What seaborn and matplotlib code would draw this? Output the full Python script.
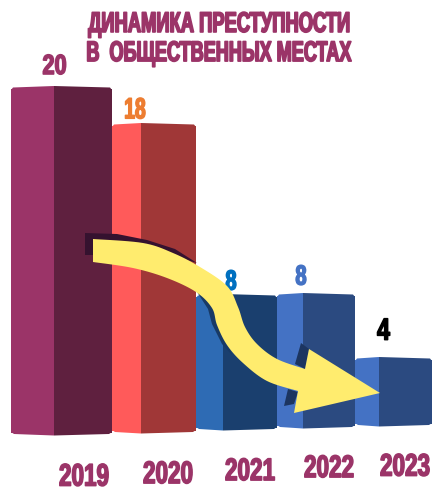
import matplotlib
matplotlib.use("Agg")
import matplotlib.pyplot as plt
import matplotlib.patheffects as pe
from matplotlib.patches import Polygon
from matplotlib.transforms import Affine2D
import numpy as np
import pandas as pd
import seaborn as sns

years = ["2019", "2020", "2021", "2022", "2023"]
values = [20, 18, 8, 8, 4]
title_lines = ["ДИНАМИКА ПРЕСТУПНОСТИ", "В  ОБЩЕСТВЕННЫХ МЕСТАХ"]
value_colors = ["#9B3468", "#ED7D31", "#0070C0", "#4472C4", "#000000"]
front_colors = ["#9B3468", "#FF5A5A", "#2E6BB4", "#4472C4", "#4472C4"]
side_colors = ["#5F203F", "#A03737", "#1A3F6E", "#2B4A80", "#2B4A80"]

# layout (pixels)
W, H = 435, 489
edges = [(11, 54, 112), (112, 141, 196), (196, 223, 277), (277, 303, 355), (355, 379, 432)]
feet = [435, 433, 430, 428, 426]
tops = [88, 125, 296, 295, 359]
PX_PER_UNIT = 17.3
ZERO = 435

sns.set_theme(style="white")
FONT = ["Liberation Sans", "DejaVu Sans"]
fig = plt.figure(figsize=(W / 100, H / 100), dpi=100, facecolor="white")
ax = fig.add_axes([0, 0, 1, 1])

df = pd.DataFrame({"year": years * 2, "value": values * 2,
                   "face": ["front"] * 5 + ["side"] * 5})
sns.barplot(data=df, x="year", y="value", hue="face", order=years,
            hue_order=["front", "side"], dodge=True, legend=False, ax=ax,
            linewidth=0, saturation=1, palette=["#888888", "#444444"])
ax.set_xlim(-0.5, 4.5)
ax.set_ylim((ZERO - H) / PX_PER_UNIT, ZERO / PX_PER_UNIT)
ax.axis("off")

ov = fig.add_axes([0, 0, 1, 1], facecolor="none")
ov.set_xlim(0, W)
ov.set_ylim(H, 0)
ov.axis("off")

xtrans = ax.transData.inverted()
def to_data(x, y):
    return xtrans.transform(ov.transData.transform((x, y)))

bars = list(ax.patches)
for i in range(5):
    x0, xm, x1 = edges[i]
    for j, (a, b, col) in enumerate([(x0, xm, front_colors[i]), (xm, x1, side_colors[i])]):
        p = bars[i + 5 * j]
        da = to_data(a, tops[i] + 2)
        db = to_data(b, feet[i] - 1)
        p.set_x(da[0]); p.set_width(db[0] - da[0])
        p.set_y(db[1]); p.set_height(da[1] - db[1])
        p.set_facecolor(col)
    t, f = tops[i], feet[i]
    ov.add_patch(Polygon([(x0 + 2, t + 0.5), (xm, t - 1), (xm, t + 3), (x0, t + 3)], fc=front_colors[i], lw=0))
    ov.add_patch(Polygon([(xm, t - 1), (x1 - 2, t + 0.5), (x1, t + 3), (xm, t + 3)], fc=side_colors[i], lw=0))
    ov.add_patch(Polygon([(x0, f - 2), (xm, f - 2), (xm, f + 1.5), (x0 + 3, f)], fc=front_colors[i], lw=0))
    ov.add_patch(Polygon([(xm, f - 2), (x1, f - 2), (x1 - 3, f), (xm, f + 1.5)], fc=side_colors[i], lw=0))


class Tall(pe.AbstractPathEffect):
    """Stretch real text vertically around a display-space centre and embolden it."""
    def __init__(self, sy, cy, lw, color):
        super().__init__()
        self.sy, self.cy, self.lw, self.color = sy, cy, lw, color

    def draw_path(self, renderer, gc, tpath, affine, rgbFace=None):
        a = affine + Affine2D().translate(0, -self.cy).scale(1, self.sy).translate(0, self.cy)
        g = renderer.new_gc()
        g.copy_properties(gc)
        g.set_linewidth(self.lw)
        g.set_foreground(self.color)
        renderer.draw_path(g, tpath, a, rgbFace)
        g.restore()


def label(x, y, s, color, size, sx, lw=1.0):
    cy = ov.transData.transform((x, y))[1]
    ov.text(x, y, s, color=color, fontsize=size * sx, family=FONT, fontweight="bold",
            ha="center", va="center", clip_on=False,
            path_effects=[Tall(1 / sx, cy, lw, color)])


label(219.5, 26, title_lines[0], "#9B3468", 20.5, 0.645, 1.2)
label(219.5, 55, title_lines[1], "#9B3468", 20.5, 0.635, 1.2)

vx = [54.5, 135, 231, 301, 383.5]
vy = [68, 112.5, 283, 278, 332]
vsize = [20, 21, 20, 20, 22]
vsx = [0.78, 0.66, 0.72, 0.72, 0.75]
for x, y, v, c, s, q in zip(vx, vy, values, value_colors, vsize, vsx):
    label(x, y, str(v), c, s, q, 1.1)

lx = [84, 168, 250, 329, 405]
ly = [479, 476.5, 473.5, 470.5, 469]
for x, y, s in zip(lx, ly, years):
    label(x, y, s, "#9B3468", 22.5, 0.72, 1.1)

# arrow shadows
ov.add_patch(Polygon([(85, 234), (117, 235), (147, 241), (175, 250), (197, 264), (173, 257), (143, 247),
                      (93, 243), (93, 256), (85, 256)], fc="#35122F", lw=0, zorder=3))
ov.add_patch(Polygon([(197, 293), (208, 310), (212, 325), (222, 345), (232, 356), (228, 345), (219, 325),
                      (214, 308), (198, 292)], fc="#183A66", lw=0, zorder=3))
ov.add_patch(Polygon([(301, 344), (309, 350), (305, 370), (295, 365)], fc="#1C3560", lw=0, zorder=3))
ov.add_patch(Polygon([(288, 390), (298, 393), (294, 405), (284, 407)], fc="#1C3560", lw=0, zorder=3))


def smooth(pts, n=10):
    """Catmull-Rom through hand-read outline points of the arrow."""
    P = np.array([pts[0]] + pts + [pts[-1]], float)
    out = []
    for k in range(1, len(P) - 2):
        for u in np.linspace(0, 1, n, endpoint=False):
            out.append(0.5 * (2 * P[k] + (P[k + 1] - P[k - 1]) * u
                              + (2 * P[k - 1] - 5 * P[k] + 4 * P[k + 1] - P[k + 2]) * u ** 2
                              + (3 * P[k] - P[k - 1] - 3 * P[k + 1] + P[k + 2]) * u ** 3))
    out.append(P[-1])
    return [tuple(o) for o in out]


top_edge = [(93, 240), (143, 244), (173, 254), (200, 268), (227, 287), (238, 308), (245, 328),
            (257, 345), (277, 360), (305, 370)]
low_edge = [(298, 392), (267, 382), (243, 364), (227, 346), (217, 326), (212, 309), (196, 293),
            (167, 279), (133, 269), (93, 263)]
head = [(309, 350), (380, 394), (294, 414)]
ov.add_patch(Polygon(smooth(top_edge) + head + smooth(low_edge), fc="#FFEC6E", ec="none", lw=0, zorder=4))

fig.savefig("out.png", dpi=100, facecolor="white")
